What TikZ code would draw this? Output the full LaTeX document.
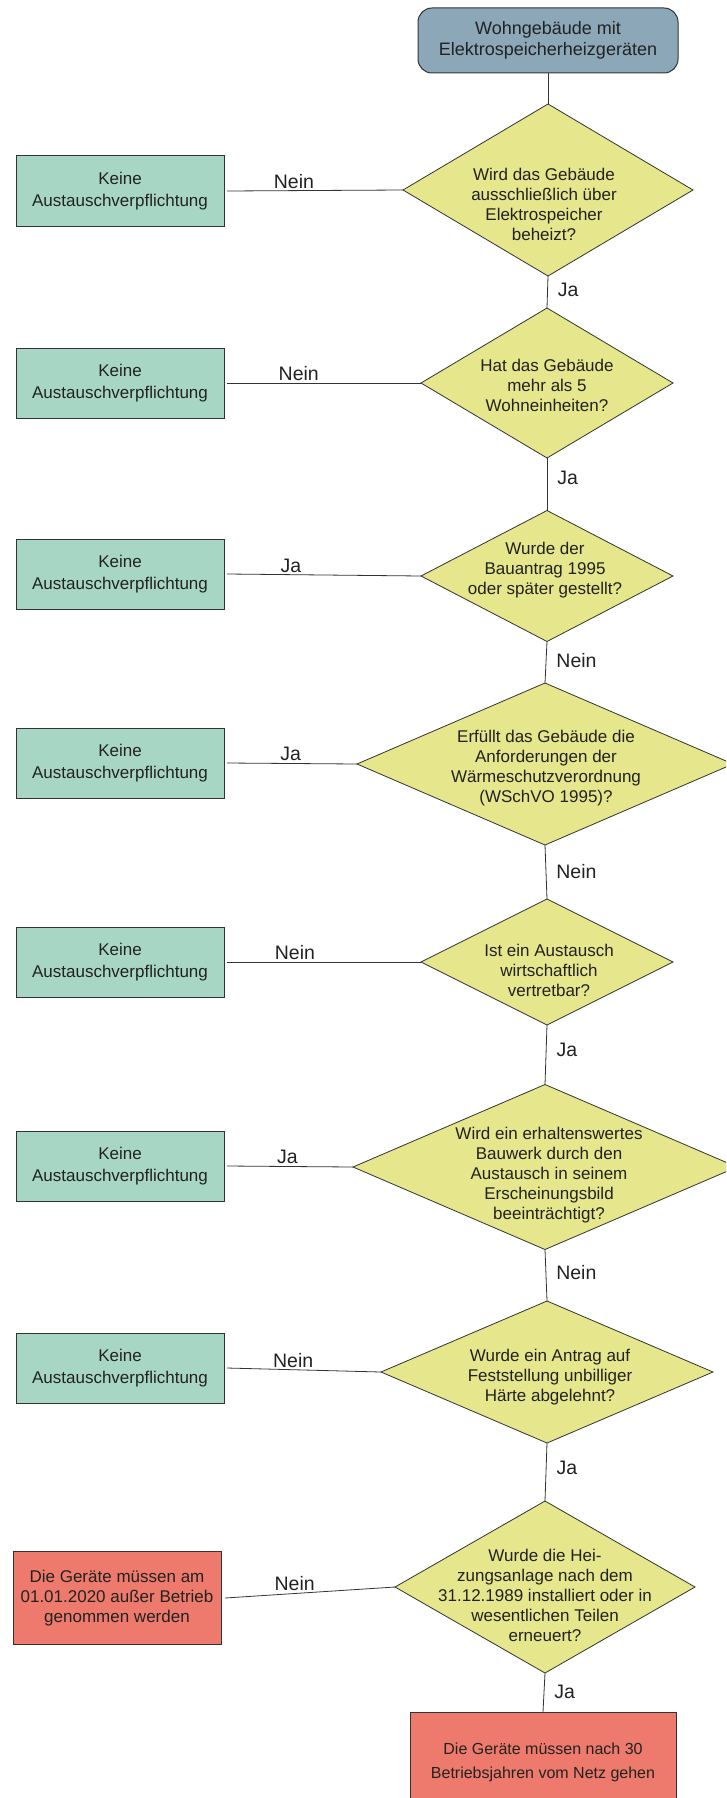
\documentclass[tikz,border=0pt]{standalone}
\usepackage{fontspec}
\setmainfont{Liberation Sans}
\usetikzlibrary{shapes.geometric}
\definecolor{startblue}{RGB}{139,167,184}
\definecolor{qyellow}{RGB}{230,230,140}
\definecolor{nogreen}{RGB}{168,214,196}
\definecolor{endred}{RGB}{237,122,108}
\definecolor{edgec}{RGB}{51,51,51}
\definecolor{txt}{RGB}{34,34,34}
\begin{document}
\begin{tikzpicture}[x=1pt,y=-1pt,
  every node/.style={text=txt},
  startbox/.style={draw=edgec, line width=1pt, fill=startblue, rounded corners=14pt,
    minimum width=260pt, minimum height=65pt, inner sep=0pt, align=center,
    font=\fontsize{18}{21}\selectfont},
  question/.style={draw=edgec, line width=0.8pt, fill=qyellow, shape=diamond,
    inner sep=0pt, outer sep=0pt},
  qtext/.style={align=center, inner sep=0pt, font=\fontsize{17}{20}\selectfont},
  nobox/.style={draw=edgec, line width=1pt, fill=nogreen, minimum width=208pt,
    minimum height=70pt, inner sep=0pt, outer sep=0pt, align=center,
    font=\fontsize{17}{22}\selectfont},
  endbox/.style={draw=edgec, line width=1pt, fill=endred, inner sep=0pt, outer sep=0pt,
    align=center},
  link/.style={draw=edgec, line width=0.8pt},
  hlabel/.style={anchor=south, inner sep=2pt, font=\fontsize{19.5}{22}\selectfont},
  vlabel/.style={anchor=west, xshift=10pt, inner sep=0pt, font=\fontsize{19.5}{22}\selectfont},
]
\useasboundingbox (0,0) rectangle (726,1798);
\clip (0,0) rectangle (726,1798);

% start
\node[startbox] (start) at (548,40.5) {Wohngebäude mit\\Elektrospeicherheizgeräten};

% questions
\node[question, minimum width=290pt, minimum height=172pt] (d1) at (548,190) {};
\node[qtext] (t1) at (544,204) {Wird das Gebäude\\ausschließlich über\\Elektrospeicher\\beheizt?};

\node[question, minimum width=252pt, minimum height=150pt] (d2) at (547,383) {};
\node[qtext] (t2) at (547,385) {Hat das Gebäude\\mehr als 5\\Wohneinheiten?};

\node[question, minimum width=252pt, minimum height=131pt] (d3) at (547,576) {};
\node[qtext] (t3) at (545,570) {Wurde der\\Bauantrag 1995\\oder später gestellt?};

\node[question, minimum width=376pt, minimum height=162pt] (d4) at (545,764) {};
\node[qtext] (t4) at (546,768) {Erfüllt das Gebäude die\\Anforderungen der\\Wärmeschutzverordnung\\(WSchVO 1995)?};

\node[question, minimum width=252pt, minimum height=126pt] (d5) at (547,962) {};
\node[qtext] (t5) at (549,970) {Ist ein Austausch\\wirtschaftlich\\vertretbar?};

\node[question, minimum width=384pt, minimum height=165pt] (d6) at (545,1167) {};
\node[qtext] (t6) at (549,1175) {Wird ein erhaltenswertes\\Bauwerk durch den\\Austausch in seinem\\Erscheinungsbild\\beeinträchtigt?};

\node[question, minimum width=332pt, minimum height=142pt] (d7) at (547,1372) {};
\node[qtext] (t7) at (550,1377) {Wurde ein Antrag auf\\Feststellung unbilliger\\Härte abgelehnt?};

\node[question, minimum width=300pt, minimum height=172pt] (d8) at (545,1587) {};
\node[qtext] (t8) at (545,1595) {Wurde die Hei-\\zungsanlage nach dem\\31.12.1989 installiert oder in\\wesentlichen Teilen\\erneuert?};

% no-obligation boxes
\node[nobox] (b1) at (120,191) {Keine\\Austauschverpflichtung};
\node[nobox] (b2) at (120,383) {Keine\\Austauschverpflichtung};
\node[nobox] (b3) at (120,574) {Keine\\Austauschverpflichtung};
\node[nobox] (b4) at (120,763) {Keine\\Austauschverpflichtung};
\node[nobox] (b5) at (120,962) {Keine\\Austauschverpflichtung};
\node[nobox] (b6) at (120,1166) {Keine\\Austauschverpflichtung};
\node[nobox] (b7) at (120,1368) {Keine\\Austauschverpflichtung};

% end boxes
\node[endbox, minimum width=208pt, minimum height=93pt, font=\fontsize{17}{20}\selectfont]
  (e1) at (117,1598) {Die Geräte müssen am\\01.01.2020 außer Betrieb\\genommen werden};
\node[endbox, minimum width=266pt, minimum height=100pt, font=\fontsize{16}{24}\selectfont]
  (e2) at (543,1762) {Die Geräte müssen nach 30\\Betriebsjahren vom Netz gehen};

% vertical flow
\draw[link] (start.south) -- (d1.north);
\draw[link] (d1.south) -- node[pos=0.42, vlabel] {Ja} (d2.north);
\draw[link] (d2.south) -- node[pos=0.38, vlabel] {Ja} (d3.north);
\draw[link] (d3.south) -- node[pos=0.46, vlabel] {Nein} (d4.north);
\draw[link] (d4.south) -- node[pos=0.5, vlabel] {Nein} (d5.north);
\draw[link] (d5.south) -- node[pos=0.41, vlabel] {Ja} (d6.north);
\draw[link] (d6.south) -- node[pos=0.45, vlabel] {Nein} (d7.north);
\draw[link] (d7.south) -- node[pos=0.43, vlabel] {Ja} (d8.north);
\draw[link] (d8.south) -- node[pos=0.49, vlabel] {Ja} (e2.north);

% side branches
\draw[link] (d1.west) -- node[pos=0.62, hlabel] {Nein} ([xshift=3pt]b1.east);
\draw[link] (d2.west) -- node[pos=0.63, hlabel] {Nein} ([xshift=3pt]b2.east);
\draw[link] (d3.west) -- node[pos=0.67, hlabel] {Ja} ([xshift=3pt]b3.east);
\draw[link] (d4.west) -- node[pos=0.51, hlabel] {Ja} ([xshift=3pt]b4.east);
\draw[link] (d5.west) -- node[pos=0.65, hlabel] {Nein} ([xshift=3pt]b5.east);
\draw[link] (d6.west) -- node[pos=0.52, hlabel] {Ja} ([xshift=3pt]b6.east);
\draw[link] (d7.west) -- node[pos=0.57, hlabel] {Nein} ([xshift=3pt]b7.east);
\draw[link] (d8.west) -- node[pos=0.59, hlabel] {Nein} ([xshift=4pt]e1.east);
\end{tikzpicture}
\end{document}
